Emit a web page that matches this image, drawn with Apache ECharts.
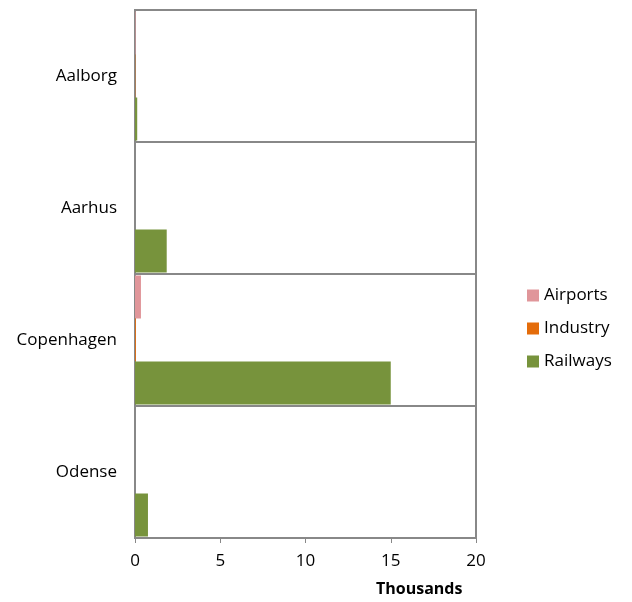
<!DOCTYPE html>
<html>
<head>
<meta charset="utf-8">
<script src="https://cdn.jsdelivr.net/npm/echarts@6/dist/echarts.min.js"></script>
<style>
html, body { margin: 0; padding: 0; background: #fff; }
#main { width: 632px; height: 602px; }
</style>
</head>
<body>
<div id="main"></div>
<script>
var cities = ['Aalborg', 'Aarhus', 'Copenhagen', 'Odense'];
var airports = [0.03, 0, 0.35, 0];
var industry = [0.02, 0, 0.05, 0];
var railways = [0.13, 1.86, 15.0, 0.76];
var xTicks = [0, 5, 10, 15, 20];

var myChart = echarts.init(document.getElementById('main'));
var font = 'Open Sans';
var option = {
	backgroundColor: '#fff',
	animation: false,
	grid: {
		left: 135,
		right: 156,
		top: 10,
		bottom: 64,
		show: true,
		borderColor: '#888',
		borderWidth: 2
	},
	legend: {
		orient: 'vertical',
		left: 522,
		top: 282,
		itemWidth: 12,
		itemHeight: 12,
		itemGap: 16,
		icon: 'rect',
		textStyle: { fontFamily: font, fontSize: 17, color: '#000' },
		data: ['Airports', 'Industry', 'Railways']
	},
	xAxis: {
		type: 'value',
		min: xTicks[0],
		max: xTicks[xTicks.length - 1],
		interval: 5,
		axisLine: { show: true, lineStyle: { color: '#888', width: 2 } },
		axisTick: { show: true, length: 5, lineStyle: { color: '#888', width: 1 } },
		splitLine: { show: false },
		axisLabel: { fontFamily: font, fontSize: 17, color: '#000', margin: 15 }
	},
	yAxis: {
		type: 'category',
		inverse: true,
		data: cities,
		axisLine: { show: true, lineStyle: { color: '#888', width: 2 } },
		axisTick: { show: false },
		splitLine: { show: true, lineStyle: { color: '#888', width: 2 } },
		axisLabel: { fontFamily: font, fontSize: 17, color: '#000', margin: 18 }
	},
	graphic: [{
		type: 'text',
		left: 376,
		top: 581,
		style: { text: 'Thousands', font: 'bold 16px "Open Sans"', fill: '#000' }
	}],
	series: [
		{ name: 'Airports', type: 'bar', data: airports, barWidth: 43, barGap: '0%', barCategoryGap: '2%', itemStyle: { color: '#e0969a' } },
		{ name: 'Industry', type: 'bar', data: industry, barWidth: 43, itemStyle: { color: '#e46c0a' } },
		{ name: 'Railways', type: 'bar', data: railways, barWidth: 43, itemStyle: { color: '#77933c' } }
	]
};
myChart.setOption(option);
</script>
</body>
</html>
